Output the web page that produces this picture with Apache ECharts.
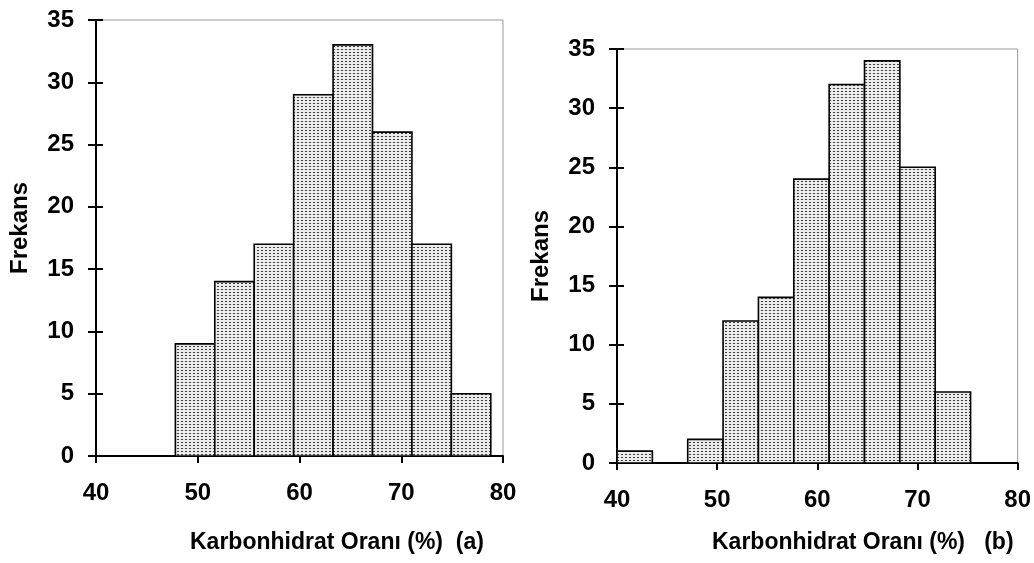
<!DOCTYPE html>
<html>
<head>
<meta charset="utf-8">
<script src="https://cdn.jsdelivr.net/npm/echarts@6/dist/echarts.min.js"></script>
<style>
html,body{margin:0;padding:0;background:#fff;}
#chart{width:1034px;height:563px;}
</style>
</head>
<body>
<div id="chart"></div>
<script>
// Histogram (a)
const edgesA = [47.8, 51.675, 55.55, 59.425, 63.3, 67.175, 71.05, 74.925, 78.8];
const countsA = [9, 14, 17, 29, 33, 26, 17, 5];
// Histogram (b)
const edgesB = [40, 43.53, 47.06, 50.59, 54.12, 57.65, 61.18, 64.71, 68.24, 71.77, 75.3];
const countsB = [1, 0, 2, 12, 14, 24, 32, 34, 25, 6];
// Texts
const yTitle = 'Frekans';
const xTitleA = 'Karbonhidrat Oranı (%)  (a)';
const xTitleB = 'Karbonhidrat Oranı (%)   (b)';

// dotted fill pattern
const pc = document.createElement('canvas');
pc.width = 4; pc.height = 3;
const pctx = pc.getContext('2d');
pctx.fillStyle = '#ebebeb'; pctx.fillRect(0, 0, 4, 3);
pctx.fillStyle = '#3c3c3c'; pctx.fillRect(1, 1, 2, 1);
const pattern = {image: pc, repeat: 'repeat'};

function toData(edges, counts) {
  return counts.map((c, i) => [edges[i], edges[i + 1], c]);
}
function renderItem(params, api) {
  const p0 = api.coord([api.value(0), 0]);
  const p1 = api.coord([api.value(1), api.value(2)]);
  return {
    type: 'rect',
    shape: {x: p0[0], y: p1[1], width: p1[0] - p0[0], height: p0[1] - p1[1]},
    style: {fill: pattern, stroke: '#000', lineWidth: 1.6}
  };
}

const FONT = 'Liberation Sans, Arial, sans-serif';
const lbl = {color: '#000', fontSize: 24, fontWeight: 'bold', fontFamily: FONT};
const ttl = {color: '#000', fontSize: 23, fontWeight: 'bold', fontFamily: FONT};

function xAxisDef(gi) {
  return {
    type: 'value', gridIndex: gi, min: 40, max: 80, interval: 10,
    axisLine: {show: true, lineStyle: {color: '#000', width: 2}},
    axisTick: {show: true, length: 7, lineStyle: {color: '#000', width: 2}},
    splitLine: {show: false},
    axisLabel: Object.assign({margin: 25}, lbl)
  };
}
function yAxisDef(gi, pad) {
  return {
    type: 'value', gridIndex: gi, min: 0, max: 35, interval: 5,
    axisLine: {show: true, lineStyle: {color: '#000', width: 2}},
    axisTick: {show: true, length: 8, lineStyle: {color: '#000', width: 2}},
    splitLine: {show: false},
    axisLabel: Object.assign({margin: 22}, lbl),
    name: yTitle, nameLocation: 'middle', nameGap: 64,
    nameTextStyle: Object.assign({padding: pad}, lbl)
  };
}
function yInner(gi) {
  return {
    type: 'value', gridIndex: gi, min: 0, max: 35, interval: 5, position: 'left',
    axisLine: {show: false},
    axisTick: {show: true, inside: true, length: 7, lineStyle: {color: '#000', width: 2}},
    axisLabel: {show: false}, splitLine: {show: false}
  };
}

const chart = echarts.init(document.getElementById('chart'));
chart.setOption({
  backgroundColor: '#fff',
  animation: false,
  title: [
    {text: xTitleA, left: 190, top: 531, padding: 0, textStyle: ttl},
    {text: xTitleB, left: 712, top: 531, padding: 0, textStyle: ttl}
  ],
  grid: [
    {left: 96, top: 20, width: 407, height: 436, show: true, borderColor: '#999', borderWidth: 1},
    {left: 617, top: 49, width: 403, height: 414, show: true, borderColor: '#999', borderWidth: 1}
  ],
  xAxis: [xAxisDef(0), xAxisDef(1)],
  yAxis: [yAxisDef(0, [0, 0, 0, 20]), yAxisDef(1, [0, 0, 0, 0]), yInner(0), yInner(1)],
  series: [
    {type: 'custom', xAxisIndex: 0, yAxisIndex: 0, renderItem: renderItem,
     encode: {x: [0, 1], y: 2}, data: toData(edgesA, countsA), z: 1},
    {type: 'custom', xAxisIndex: 1, yAxisIndex: 1, renderItem: renderItem,
     encode: {x: [0, 1], y: 2}, data: toData(edgesB, countsB), z: 1}
  ]
});
</script>
</body>
</html>
